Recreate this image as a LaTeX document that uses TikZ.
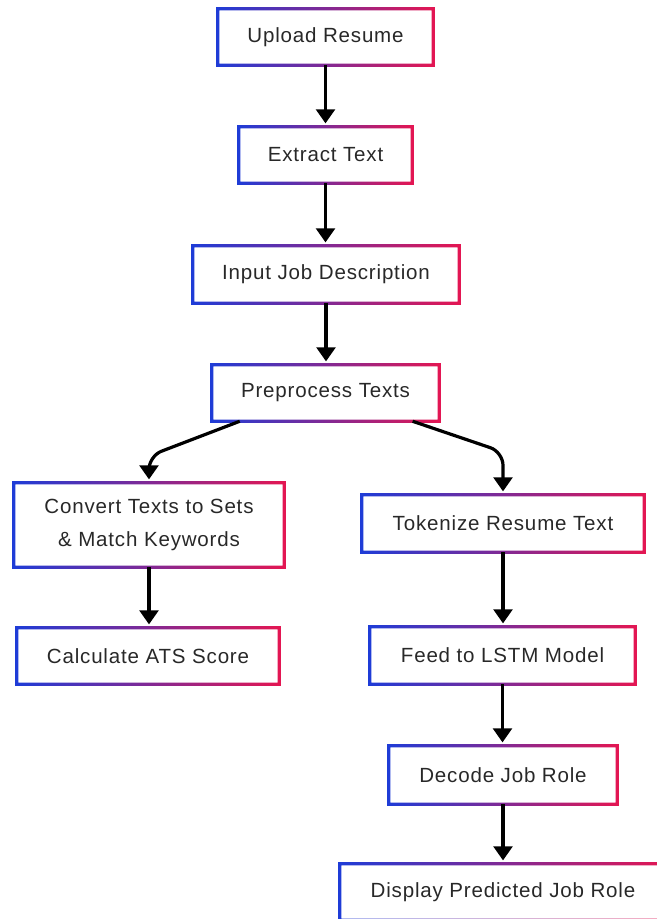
\documentclass[tikz,border=0pt]{standalone}
\usepackage{fontspec}
\setmainfont{Liberation Sans}[LetterSpace=4]
\usetikzlibrary{arrows.meta}
\definecolor{gBlue}{RGB}{30,60,215}
\definecolor{gRed}{RGB}{228,22,82}
\definecolor{txt}{RGB}{40,40,40}
\tikzset{
  stepbox/.style={draw=none, fill=none, inner sep=0pt, align=center,
    text=txt, font=\fontsize{15.4}{21}\selectfont},
  boxw/.style={minimum width=#1*0.75pt},
  boxh/.style={minimum height=#1*0.75pt},
  flow/.style={draw=black, line width=2.4pt,
    -{Triangle[width=14pt,length=10.5pt]}, shorten >=2.5pt},
}
\begin{document}
\begin{tikzpicture}[x=0.75pt,y=-0.75pt]
\useasboundingbox (0,0) rectangle (656,919);

% process steps (centres and sizes in pixel units)
\node[stepbox, boxw=215, boxh=56] (upload)  at (325.5,37)  {Upload Resume};
\node[stepbox, boxw=173, boxh=56] (extract) at (325.5,155) {Extract Text};
\node[stepbox, boxw=266, boxh=57] (input)   at (326,274.5) {Input Job Description};
\node[stepbox, boxw=227, boxh=56] (pre)     at (325.5,393) {Preprocess Texts};
\node[stepbox, boxw=270, boxh=84] (convert) at (149,525)   {Convert Texts to Sets\\[4pt]\& Match Keywords};
\node[stepbox, boxw=262, boxh=56] (ats)     at (148,656)   {Calculate ATS Score};
\node[stepbox, boxw=282, boxh=57] (token)   at (503,523.5) {Tokenize Resume Text};
\node[stepbox, boxw=265, boxh=57] (feed)    at (502.5,655.5) {Feed to LSTM Model};
\node[stepbox, boxw=228, boxh=58] (decode)  at (503,775)   {Decode Job Role};
\node[stepbox, boxw=326, boxh=56] (display) at (503,892)   {Display Predicted Job Role};

% gradient frames, blue on the left fading to red on the right
\foreach \n in {upload,extract,input,pre,convert,ats,token,feed,decode,display}{
  \shade[left color=gBlue, right color=gRed, even odd rule]
    ([shift={(-1.2pt,-1.2pt)}]\n.south west) rectangle ([shift={(1.2pt,1.2pt)}]\n.north east)
    ([shift={(1.2pt,1.2pt)}]\n.south west) rectangle ([shift={(-1.2pt,-1.2pt)}]\n.north east);
}

% connectors
\draw[flow] (upload.south) -- (upload.south |- extract.north);
\draw[flow] (extract.south) -- (extract.south |- input.north);
\draw[flow] (input.south) -- (input.south |- pre.north);

\coordinate (lbend) at (149,456);
\coordinate (rbend) at (503,452);
\draw[flow, rounded corners=10pt] ([xshift=21pt]pre.south west) -- (lbend) -- (lbend |- convert.north);
\draw[flow, rounded corners=10pt] ([xshift=-20pt]pre.south east) -- (rbend) -- (rbend |- token.north);

\draw[flow] (convert.south) -- (convert.south |- ats.north);
\draw[flow] (token.south) -- (token.south |- feed.north);
\draw[flow] (feed.south) -- (feed.south |- decode.north);
\draw[flow] (decode.south) -- (decode.south |- display.north);
\end{tikzpicture}
\end{document}
